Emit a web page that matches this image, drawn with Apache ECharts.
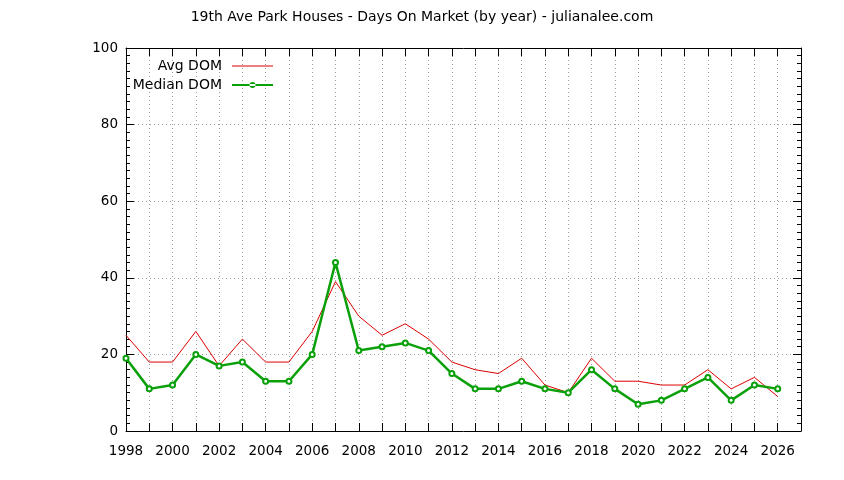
<!DOCTYPE html>
<html><head><meta charset="utf-8">
<script src="https://cdn.jsdelivr.net/npm/echarts@6/dist/echarts.min.js"></script>
<style>html,body{margin:0;padding:0;background:#fff}#c{width:844px;height:480px}</style>
</head><body><div id="c"></div>
<script>
const years = [1998,1999,2000,2001,2002,2003,2004,2005,2006,2007,2008,2009,2010,2011,2012,2013,2014,2015,2016,2017,2018,2019,2020,2021,2022,2023,2024,2025,2026];
const avgDom = [25,18,18,26,17,24,18,18,26,39,30,25,28,24,18,16,15,19,12,10,19,13,13,12,12,16,11,14,9];
const medianDom = [19,11,12,20,17,18,13,13,20,44,21,22,23,21,15,11,11,13,11,10,16,11,7,8,11,14,8,12,11];
const titleText = '19th Ave Park Houses - Days On Market (by year) - julianalee.com';

const F = 'DejaVu Sans';
const RED = '#dd0000', GREEN = '#0aa00a';
const chart = echarts.init(document.getElementById('c'), null, {renderer:'canvas'});
const pairs = (ys) => years.map((y,i)=>[y, ys[i]]);
chart.setOption({
  animation:false,
  backgroundColor:'#fff',
  textStyle:{fontFamily:F},
  title:{text:titleText, left:'center', top:10, padding:0, textStyle:{fontFamily:F, fontSize:14, fontWeight:'normal', color:'#000'}},
  legend:[
    {data:[{name:'Avg DOM', icon:'rect', itemStyle:{color:RED, borderWidth:0}}], orient:'vertical', align:'right', right:571, top:59, padding:0, itemWidth:41, itemHeight:1,
     textStyle:{fontFamily:F, fontSize:14, color:'#000', padding:[0,5,0,0]}, selectedMode:false},
    {data:[{name:'Median DOM', icon:'path://M0,2H41V4H0Z M17.5,3A3,3 0 1,0 23.5,3A3,3 0 1,0 17.5,3Z', itemStyle:{color:GREEN, borderWidth:0}}], orient:'vertical', align:'right', right:571, top:78, padding:0, itemWidth:41, itemHeight:6,
     textStyle:{fontFamily:F, fontSize:14, color:'#000', padding:[0,5,0,0]}, selectedMode:false}
  ],
  grid:{left:126, right:43, top:48, bottom:49, containLabel:false},
  xAxis:[
    {type:'value', min:1998, max:2027, interval:1, position:'bottom',
     axisLine:{show:true, onZero:false, lineStyle:{color:'#000', width:1}},
     axisTick:{show:true, inside:true, length:8, lineStyle:{color:'#000'}},
     axisLabel:{color:'#000', fontFamily:F, fontSize:13.5, margin:13, showMaxLabel:false,
       formatter:(v)=> (v%2===0 && v<=2026) ? String(v) : ''},
     splitLine:{show:true, lineStyle:{color:'#a0a0a0', type:[1,3], width:1}}},
    {type:'value', min:1998, max:2027, interval:1, position:'top',
     axisLine:{show:true, onZero:false, lineStyle:{color:'#000', width:1}},
     axisTick:{show:true, inside:true, length:8, lineStyle:{color:'#000'}},
     axisLabel:{show:false}, splitLine:{show:false}}
  ],
  yAxis:[
    {type:'value', min:0, max:100, interval:20, position:'left',
     axisLine:{show:true, lineStyle:{color:'#000', width:1}},
     axisTick:{show:true, inside:true, length:8, lineStyle:{color:'#000'}},
     minorTick:{show:true, splitNumber:10, length:4, lineStyle:{color:'#000'}},
     axisLabel:{color:'#000', fontFamily:F, fontSize:13.5, margin:8},
     splitLine:{show:true, lineStyle:{color:'#a0a0a0', type:[1,3], width:1}}},
    {type:'value', min:0, max:100, interval:20, position:'right',
     axisLine:{show:true, lineStyle:{color:'#000', width:1}},
     axisTick:{show:true, inside:true, length:8, lineStyle:{color:'#000'}},
     minorTick:{show:true, splitNumber:10, length:4, lineStyle:{color:'#000'}},
     axisLabel:{show:false}, splitLine:{show:false}}
  ],
  series:[
    {name:'Avg DOM', type:'line', data:pairs(avgDom), symbol:'none', z:3,
     itemStyle:{color:RED},
     lineStyle:{color:RED, width:1}},
    {name:'Median DOM', type:'line', data:pairs(medianDom), symbol:'emptyCircle', symbolSize:5, z:4,
     itemStyle:{color:GREEN, borderColor:GREEN, borderWidth:2},
     lineStyle:{color:GREEN, width:2.5}}
  ]
});
</script></body></html>
